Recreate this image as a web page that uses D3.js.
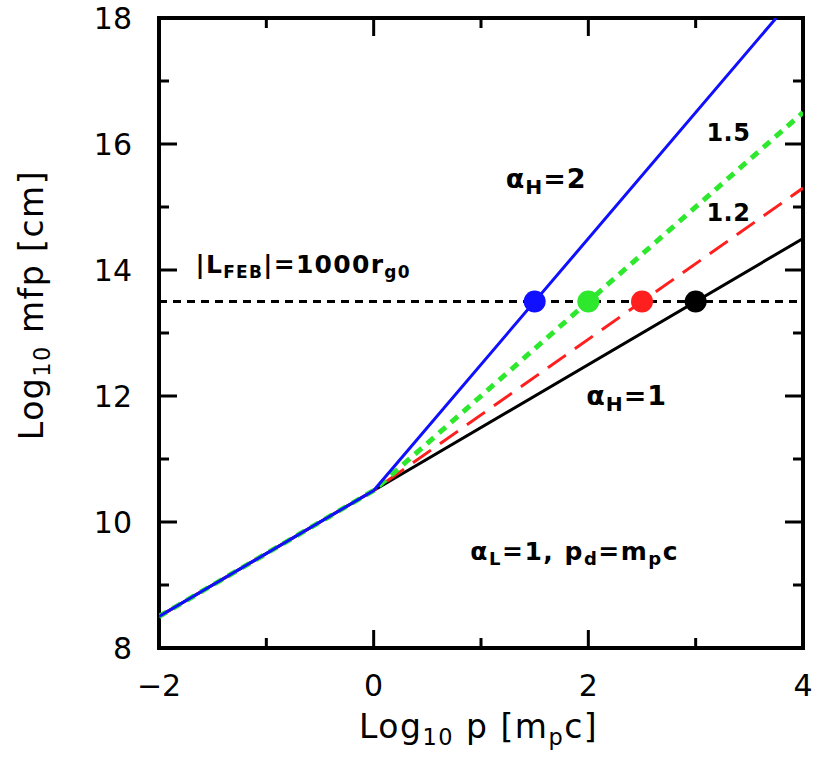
<!DOCTYPE html>
<html>
<head>
<meta charset="utf-8">
<script src="https://cdn.jsdelivr.net/npm/d3@7"></script>
<style>
  body { margin: 0; background: #fff; }
  text { font-family: "DejaVu Sans", "Liberation Sans", sans-serif; fill: #000; }
</style>
</head>
<body>
<div id="chart"></div>
<script>
// curves: log10 p vs log10 mfp
const alphaH = [1, 1.2, 1.5, 2];
const curveBlack = [[-2, 8.5], [0, 10.5], [4, 14.5]];
const curveRed = [[-2, 8.5], [0, 10.5], [4, 15.3]];
const curveGreen = [[-2, 8.5], [0, 10.5], [4, 16.5]];
const curveBlue = [[-2, 8.5], [0, 10.5], [3.75, 18]];
const febLevel = 13.5;
const dotX = [3, 2.5, 2, 1.5];
const xTicks = [-2, 0, 2, 4];
const yTicks = [8, 10, 12, 14, 16, 18];

const W = 817, H = 765;
const margin = { top: 18, right: 14, bottom: 117, left: 159 };
const width = W - margin.left - margin.right;
const height = H - margin.top - margin.bottom;

const svg = d3.select('#chart').append('svg')
  .attr('width', W)
  .attr('height', H);

const g = svg.append('g')
  .attr('transform', `translate(${margin.left},${margin.top})`);

const x = d3.scaleLinear().domain([-2, 4]).range([0, width]);
const y = d3.scaleLinear().domain([8, 18]).range([height, 0]);

g.append('defs').append('clipPath').attr('id', 'clip')
  .append('rect').attr('width', width).attr('height', height);

// inward ticks on all four sides
const minorX = d3.range(-2, 4.01, 1);
const minorY = d3.range(8, 18.01, 1);
const tickLen = v => (Math.abs(v % 2) < 1e-6 ? 18 : 10);

const ticks = g.append('g').attr('stroke', '#000').attr('stroke-width', 3);
minorX.forEach(v => {
  ticks.append('line').attr('x1', x(v)).attr('x2', x(v)).attr('y1', height).attr('y2', height - tickLen(v));
  ticks.append('line').attr('x1', x(v)).attr('x2', x(v)).attr('y1', 0).attr('y2', tickLen(v));
});
minorY.forEach(v => {
  ticks.append('line').attr('y1', y(v)).attr('y2', y(v)).attr('x1', 0).attr('x2', tickLen(v));
  ticks.append('line').attr('y1', y(v)).attr('y2', y(v)).attr('x1', width).attr('x2', width - tickLen(v));
});

g.append('rect')
  .attr('width', width).attr('height', height)
  .attr('fill', 'none').attr('stroke', '#000').attr('stroke-width', 4);

// tick labels
g.selectAll('.xlab').data(xTicks).join('text')
  .attr('class', 'xlab')
  .attr('x', d => x(d)).attr('y', height + 48)
  .attr('text-anchor', 'middle')
  .style('font-size', '30px')
  .text(d => (d < 0 ? '\u2212' + Math.abs(d) : d));

g.selectAll('.ylab').data(yTicks).join('text')
  .attr('class', 'ylab')
  .attr('x', -27).attr('y', d => y(d) + 11)
  .attr('text-anchor', 'end')
  .style('font-size', '30px')
  .text(d => d);

const line = d3.line().x(d => x(d[0])).y(d => y(d[1]));
const plot = g.append('g').attr('clip-path', 'url(#clip)');

// L_FEB level
plot.append('path')
  .attr('d', line([[-2, febLevel], [4, febLevel]]))
  .attr('fill', 'none').attr('stroke', '#000').attr('stroke-width', 3)
  .attr('stroke-dasharray', '8,6');

const series = [
  { pts: curveBlack, color: '#000000', dash: null, w: 3 },
  { pts: curveRed, color: '#ff1f1f', dash: '22,11', w: 3 },
  { pts: curveGreen, color: '#2ee82e', dash: '9,7', w: 5 },
  { pts: curveBlue, color: '#1010ff', dash: null, w: 3 }
];
series.forEach(s => {
  plot.append('path')
    .attr('d', line(s.pts))
    .attr('fill', 'none')
    .attr('stroke', s.color)
    .attr('stroke-width', s.w)
    .attr('stroke-dasharray', s.dash);
});

g.selectAll('.dot').data(dotX).join('circle')
  .attr('class', 'dot')
  .attr('cx', d => x(d)).attr('cy', y(febLevel))
  .attr('r', 11)
  .attr('fill', (d, i) => series[i].color);

// annotations
function label(px, py, parts, size, bold, spacing, subScale) {
  const t = g.append('text').attr('x', px).attr('y', py)
    .style('font-size', size + 'px')
    .style('font-weight', bold ? 'bold' : 'normal')
    .style('letter-spacing', (spacing || 0) + 'px');
  parts.forEach(p => {
    const ts = t.append('tspan').text(p.t);
    if (p.sub) ts.attr('baseline-shift', '-30%').style('font-size', (size * (subScale || 0.68)) + 'px');
  });
  return t;
}

label(x(1.23), y(15.3), [{ t: 'α' }, { t: 'H', sub: true }, { t: '=2' }], 27, true, 1, 0.75);
label(x(3.1), y(16.05), [{ t: '1.5' }], 24, true, 0.5);
label(x(3.1), y(14.78), [{ t: '1.2' }], 24, true, 0.5);
label(x(1.98), y(11.85), [{ t: 'α' }, { t: 'H', sub: true }, { t: '=1' }], 27, true, 1, 0.75);
label(x(-1.66), y(13.95), [{ t: '|L' }, { t: 'FEB', sub: true }, { t: '|=1000r' }, { t: 'g0', sub: true }], 25, true, 1.3);
label(x(0.9), y(9.4), [{ t: 'α' }, { t: 'L', sub: true }, { t: '=1, p' }, { t: 'd', sub: true }, { t: '=m' }, { t: 'p', sub: true }, { t: 'c' }], 25, true, 1.5, 0.72);

// axis titles
label(width / 2 - 122, height + 90, [{ t: 'Log' }, { t: '10', sub: true }, { t: ' p [m' }, { t: 'p', sub: true }, { t: 'c]' }], 33, false, 1.5);

const yt = label(0, 0, [{ t: 'Log' }, { t: '10', sub: true }, { t: ' mfp [cm]' }], 33, false, 1.5);
yt.attr('x', null).attr('y', null)
  .attr('text-anchor', 'middle')
  .attr('transform', `translate(${-116},${287}) rotate(-90)`);
</script>
</body>
</html>
